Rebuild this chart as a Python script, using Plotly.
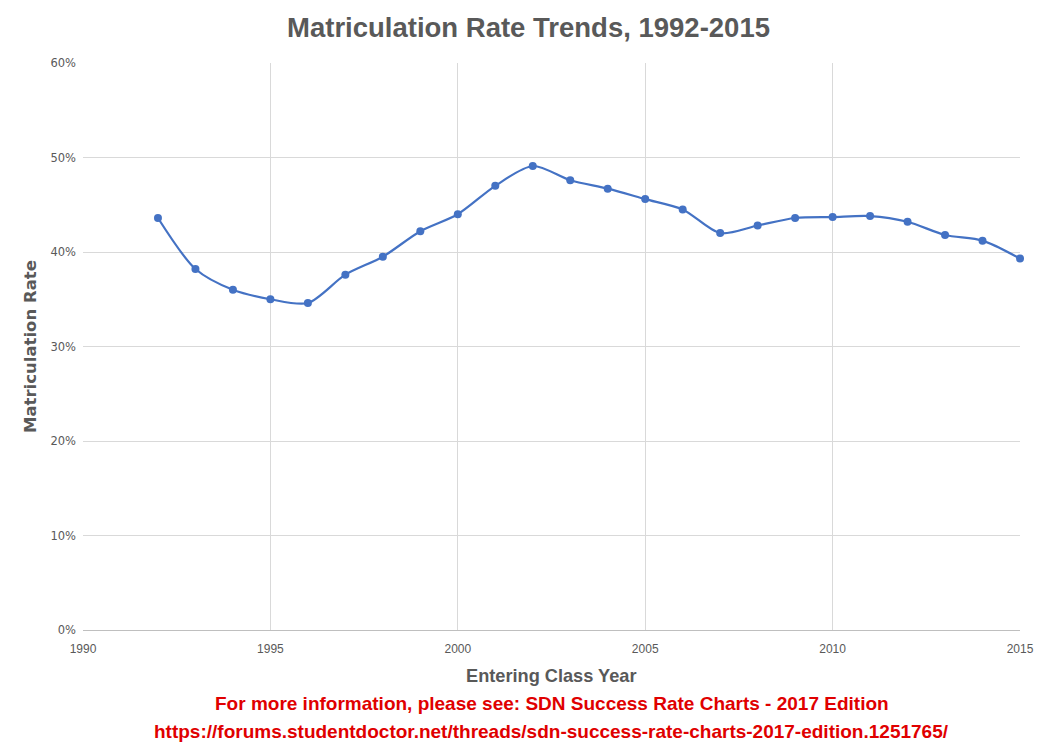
import plotly.graph_objects as go

years = list(range(1992, 2016))
rates = [43.6, 38.2, 36.0, 35.0, 34.6, 37.6, 39.5, 42.2, 44.0, 47.0, 49.1, 47.6,
         46.7, 45.6, 44.5, 42.0, 42.8, 43.6, 43.7, 43.8, 43.2, 41.8, 41.2, 39.3]
rates = [r / 100 for r in rates]

title_text = "Matriculation Rate Trends, 1992-2015"
x_title = "Entering Class Year"
y_title = "Matriculation Rate"
note1 = "For more information, please see: SDN Success Rate Charts - 2017 Edition"
note2 = "https://forums.studentdoctor.net/threads/sdn-success-rate-charts-2017-edition.1251765/"

narrow = "Liberation Sans Narrow, Arial Narrow, Liberation Sans, sans-serif"
grey = "#595959"

W, H = 1041, 748
L, R, T, B = 75, 29, 55, 126
ph = H - T - B
pw = W - L - R

fig = go.Figure()
fig.add_trace(go.Scatter(
    x=years, y=rates, mode="lines+markers",
    line=dict(color="#4472C4", width=2.2, shape="spline", smoothing=0.8),
    marker=dict(color="#4472C4", size=8),
    cliponaxis=False,
    showlegend=False,
))

fig.update_layout(
    width=W, height=H,
    margin=dict(l=L, r=R, t=T, b=B),
    paper_bgcolor="white", plot_bgcolor="white",
    title=dict(text="<b>" + title_text + "</b>", x=0.5, xanchor="center",
               y=1 - 19 / H, yanchor="middle",
               font=dict(family=narrow, size=27.5, color=grey)),
    xaxis=dict(range=[1990, 2015], dtick=5, tick0=1990,
               showgrid=True, gridcolor="#d9d9d9", gridwidth=1,
               showline=True, linecolor="#bfbfbf", linewidth=1,
               zeroline=False, ticks="", ticklabelstandoff=8,
               tickfont=dict(family=narrow, size=12, color=grey)),
    yaxis=dict(range=[0, 0.6], dtick=0.1, tickformat=".0%",
               showgrid=True, gridcolor="#d9d9d9", gridwidth=1,
               showline=False, zeroline=False, ticks="", ticklabelstandoff=6,
               tickfont=dict(family="DejaVu Sans, sans-serif", size=11.5, color=grey)),
)

fig.add_annotation(text="<b>" + x_title + "</b>", xref="paper", yref="paper",
                   x=0.5, y=-(676 - 630) / ph, yanchor="middle", showarrow=False,
                   font=dict(family=narrow, size=18.2, color=grey))
fig.add_annotation(text="<b>" + y_title + "</b>", xref="paper", yref="paper",
                   x=-(83 - 30) / pw, xanchor="center", y=(630 - 347) / ph,
                   yanchor="middle", textangle=-90, showarrow=False,
                   font=dict(family="DejaVu Sans, sans-serif", size=16.5, color=grey))
fig.add_annotation(text="<b>" + note1 + "</b>", xref="paper", yref="paper",
                   x=0.5, y=-(704 - 630) / ph, yanchor="middle", showarrow=False,
                   font=dict(family=narrow, size=19, color="#e00000"))
fig.add_annotation(text="<b>" + note2 + "</b>", xref="paper", yref="paper",
                   x=0.5, y=-(731 - 630) / ph, yanchor="middle", showarrow=False,
                   font=dict(family=narrow, size=19, color="#e00000"))

fig.write_html("out.html")
